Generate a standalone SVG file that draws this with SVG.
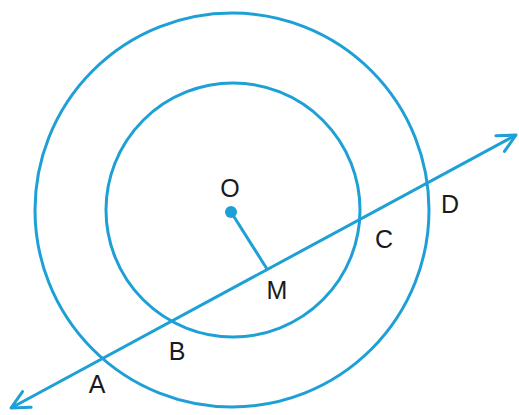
<svg xmlns="http://www.w3.org/2000/svg" width="519" height="415" viewBox="0 0 519 415">
<style>
.c{fill:none;stroke:#1ea0d6;stroke-width:3}
.l{font-family:"Liberation Sans",Arial,sans-serif;font-size:25px;fill:#1a1a1a}
</style>
<defs>
<marker id="ar" markerUnits="userSpaceOnUse" markerWidth="30" markerHeight="30" refX="0" refY="0" orient="auto-start-reverse" overflow="visible">
<path d="M-18,-9 L0,0 L-18,9" fill="none" stroke="#1ea0d6" stroke-width="3" stroke-linecap="round" stroke-linejoin="round"/>
</marker>
</defs>
<rect width="519" height="415" fill="#fff"/>
<g id="outer"><circle class="c" cx="232" cy="210" r="197"/></g>
<g id="inner"><circle class="c" cx="233" cy="210" r="127"/></g>
<g id="connectors">
<line class="c" x1="11" y1="408" x2="516" y2="135" marker-start="url(#ar)" marker-end="url(#ar)"/>
<line class="c" x1="231" y1="212" x2="267" y2="269"/>
</g>
<g id="O"><circle cx="231" cy="212" r="6" fill="#1ea0d6"/><text class="l" x="230" y="197" text-anchor="middle">O</text></g>
<g id="M"><text class="l" x="277" y="299" text-anchor="middle">M</text></g>
<g id="A"><text class="l" x="97" y="393" text-anchor="middle">A</text></g>
<g id="B"><text class="l" x="177" y="360" text-anchor="middle">B</text></g>
<g id="C"><text class="l" x="384" y="248" text-anchor="middle">C</text></g>
<g id="D"><text class="l" x="450" y="213" text-anchor="middle">D</text></g>
</svg>
